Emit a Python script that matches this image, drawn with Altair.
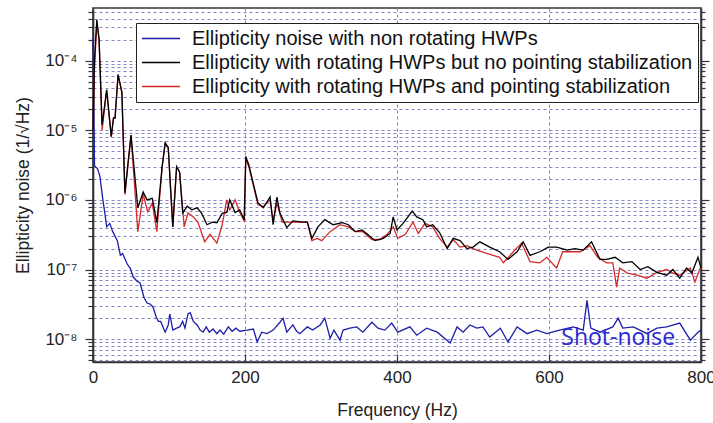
import altair as alt
import pandas as pd

# ---------------- data (frequency Hz, ellipticity 1/sqrt(Hz)) ----------------
blue = [(0, 2.1e-4), (2, 3.1e-6), (6, 2.8e-6), (9, 2.2e-6), (13, 1.0e-6), (16, 6.0e-7), (18, 4.1e-7),
        (22, 4.6e-7), (26, 3.5e-7), (32, 2.6e-7), (36, 1.6e-7), (39, 1.7e-7), (45, 1.2e-7), (49, 1.04e-7),
        (53, 7.8e-8), (58, 6.8e-8), (62, 6.4e-8), (67, 4.0e-8), (71, 3.3e-8), (75, 3.2e-8), (79, 2.9e-8),
        (83, 2.1e-8), (86, 1.8e-8), (89, 1.8e-8), (95, 1.26e-8), (99, 1.6e-8), (101, 2.3e-8), (105, 1.35e-8),
        (110, 1.44e-8), (114, 1.5e-8), (118, 1.8e-8), (121, 1.44e-8), (125, 2.3e-8), (128, 2.4e-8),
        (132, 1.8e-8), (137, 1.6e-8), (141, 1.35e-8), (145, 1.26e-8), (149, 1.5e-8), (153, 1.26e-8),
        (158, 1.4e-8), (163, 1.2e-8), (167, 1.35e-8), (172, 1.18e-8), (178, 1.5e-8), (183, 1.3e-8),
        (188, 1.44e-8), (193, 1.3e-8), (203, 1.35e-8), (211, 1.4e-8), (216, 9.1e-9), (222, 1.26e-8),
        (229, 1.2e-8), (237, 1.35e-8), (246, 1.75e-8), (250, 2.0e-8), (255, 1.26e-8), (263, 1.6e-8),
        (268, 1.3e-8), (272, 1.2e-8), (282, 1.5e-8), (289, 1.35e-8), (299, 1.6e-8), (305, 2.0e-8),
        (312, 1.03e-8), (317, 1.35e-8), (325, 9.7e-9), (329, 1.35e-8), (338, 1.44e-8), (347, 1.5e-8),
        (355, 1.26e-8), (367, 1.75e-8), (375, 1.44e-8), (384, 1.35e-8), (393, 1.7e-8), (401, 1.26e-8),
        (417, 1.5e-8), (426, 1.14e-8), (439, 1.44e-8), (453, 1.26e-8), (470, 8.8e-9), (479, 1.5e-8),
        (487, 1.26e-8), (496, 1.6e-8), (505, 1.44e-8), (513, 1.5e-8), (522, 1.07e-8), (536, 1.44e-8),
        (546, 9.1e-9), (558, 1.5e-8), (571, 1.2e-8), (584, 1.35e-8), (597, 1.2e-8), (614, 1.35e-8),
        (632, 1.5e-8), (645, 1.35e-8), (650, 3.6e-8), (655, 1.44e-8), (667, 1.26e-8), (684, 1.5e-8),
        (691, 2.0e-8), (697, 1.44e-8), (711, 1.5e-8), (729, 1.2e-8), (742, 1.44e-8), (755, 1.5e-8),
        (772, 1.7e-8), (786, 9.7e-9), (796, 1.26e-8), (800, 1.35e-8)]

black = [(0, 1.0e-5), (2, 1.0e-4), (5, 3.9e-4), (8, 2.0e-4), (12, 1.2e-5), (18, 3.8e-5), (24, 8.1e-6),
         (27, 1.5e-5), (29, 1.5e-5), (33, 6.3e-5), (38, 3.5e-5), (42, 1.26e-6), (50, 8.5e-6), (59, 7.7e-7),
         (66, 1.3e-6), (71, 1.0e-6), (78, 1.05e-6), (84, 4.7e-7), (91, 3.0e-6), (95, 6.6e-6), (99, 5.6e-6),
         (105, 4.1e-7), (110, 3.0e-6), (114, 2.5e-6), (118, 6.5e-7), (124, 8.1e-7), (130, 7.2e-7),
         (137, 7.7e-7), (143, 6.4e-7), (150, 4.4e-7), (157, 4.8e-7), (163, 4.7e-7), (170, 6.4e-7),
         (176, 6.6e-7), (180, 1.0e-6), (187, 6.6e-7), (193, 7.2e-7), (199, 5.2e-7), (201, 4.2e-6),
         (205, 3.2e-6), (211, 1.7e-6), (217, 9.1e-7), (224, 7.7e-7), (233, 1.1e-6), (237, 4.4e-7),
         (242, 1.1e-6), (246, 6.4e-7), (255, 4.0e-7), (263, 5.0e-7), (276, 4.8e-7), (282, 4.8e-7),
         (288, 2.8e-7), (296, 4.1e-7), (305, 5.2e-7), (316, 4.4e-7), (328, 4.7e-7), (336, 4.4e-7),
         (345, 3.5e-7), (354, 3.7e-7), (360, 3.3e-7), (371, 2.6e-7), (382, 2.8e-7), (391, 3.3e-7),
         (395, 5.7e-7), (400, 3.7e-7), (408, 4.6e-7), (420, 6.9e-7), (426, 5.7e-7), (434, 5.2e-7),
         (439, 4.1e-7), (447, 4.4e-7), (456, 3.4e-7), (466, 2.0e-7), (474, 2.8e-7), (483, 2.6e-7),
         (492, 2.0e-7), (500, 2.1e-7), (509, 2.5e-7), (522, 2.1e-7), (535, 1.8e-7), (546, 1.4e-7),
         (558, 1.8e-7), (566, 2.5e-7), (575, 1.6e-7), (588, 1.8e-7), (599, 2.1e-7), (610, 2.1e-7),
         (624, 1.9e-7), (634, 2.0e-7), (645, 1.9e-7), (656, 2.5e-7), (667, 1.4e-7), (676, 1.4e-7),
         (687, 1.5e-7), (697, 1.25e-7), (709, 1.3e-7), (720, 1.0e-7), (730, 1.1e-7), (742, 9.1e-8),
         (755, 8.3e-8), (763, 1.0e-7), (772, 7.5e-8), (781, 1.05e-7), (788, 8.9e-8), (796, 1.5e-7),
         (800, 1.05e-7)]

red = [(0, 1.0e-5), (2, 8.0e-5), (5, 3.5e-4), (8, 2.0e-4), (12, 1.0e-5), (18, 3.8e-5), (24, 8.1e-6),
       (27, 1.5e-5), (29, 1.5e-5), (33, 6.3e-5), (38, 3.5e-5), (42, 1.2e-6), (50, 8.5e-6), (59, 3.5e-7),
       (66, 1.2e-6), (72, 6.7e-7), (78, 9.0e-7), (84, 3.5e-7), (91, 3.0e-6), (95, 6.6e-6), (99, 5.6e-6),
       (105, 4.1e-7), (110, 3.0e-6), (114, 2.5e-6), (120, 4.1e-7), (125, 6.5e-7), (132, 5.7e-7),
       (138, 4.8e-7), (147, 2.5e-7), (154, 3.2e-7), (163, 2.4e-7), (170, 4.4e-7), (176, 1.0e-6),
       (180, 7.2e-7), (187, 1.0e-6), (193, 6.6e-7), (199, 5.0e-7), (201, 3.8e-6), (205, 3.0e-6),
       (211, 1.6e-6), (217, 8.5e-7), (224, 8.0e-7), (233, 1.0e-6), (237, 5.0e-7), (242, 9.0e-7),
       (249, 4.8e-7), (255, 4.8e-7), (263, 4.8e-7), (282, 4.8e-7), (288, 2.6e-7), (295, 2.8e-7),
       (301, 2.6e-7), (312, 3.5e-7), (325, 4.4e-7), (336, 4.1e-7), (345, 3.5e-7), (355, 3.5e-7),
       (367, 2.7e-7), (378, 2.7e-7), (387, 3.2e-7), (395, 4.1e-7), (401, 2.8e-7), (411, 3.2e-7),
       (421, 4.8e-7), (428, 3.3e-7), (437, 4.6e-7), (447, 4.1e-7), (456, 2.8e-7), (466, 2.1e-7),
       (474, 2.7e-7), (483, 2.1e-7), (492, 2.2e-7), (505, 1.9e-7), (518, 1.7e-7), (535, 1.5e-7),
       (540, 1.25e-7), (553, 1.8e-7), (564, 2.4e-7), (575, 1.3e-7), (588, 1.25e-7), (597, 1.5e-7),
       (610, 1.05e-7), (618, 1.8e-7), (630, 1.8e-7), (641, 1.8e-7), (654, 2.2e-7), (664, 1.5e-7),
       (676, 1.25e-7), (684, 1.25e-7), (689, 5.6e-8), (693, 1.05e-7), (703, 8.9e-8), (716, 8.3e-8),
       (729, 7.5e-8), (742, 9.1e-8), (755, 1.0e-7), (763, 8.9e-8), (772, 8.3e-8), (786, 1.05e-7),
       (792, 6.6e-8), (799, 1.05e-7)]

series_names = ["Ellipticity noise with non rotating HWPs",
                "Ellipticity with rotating HWPs but no pointing stabilization",
                "Ellipticity with rotating HWPs and pointing stabilization"]
series_colors = ["#1e1eaa", "#000000", "#d42a2a"]

x_ticks = [0, 200, 400, 600, 800]
y_domain = [4.7e-9, 5.7e-4]
y_grid = [k * 10.0 ** n for n in range(-9, -3) for k in range(1, 10)
          if y_domain[0] <= k * 10.0 ** n <= y_domain[1]]

annot_label = ["Shot-noise"]
annot_f = [691]
annot_v = [1.03e-8]

# ---------------- frames (drawing order: blue, red, black on top) ----------------
def frame(pairs, name):
    return pd.DataFrame({"f": [p[0] for p in pairs], "v": [p[1] for p in pairs], "series": name})

df_lines = pd.concat([frame(blue, series_names[0]), frame(red, series_names[2]),
                      frame(black, series_names[1])], ignore_index=True)
df_annot = pd.DataFrame({"f": annot_f, "v": annot_v, "label": annot_label})

# ---------------- axes ----------------
sup = {-4: "⁻⁴", -5: "⁻⁵", -6: "⁻⁶", -7: "⁻⁷", -8: "⁻⁸", -9: "⁻⁹"}
E = "round(log(datum.value)/LN10)"
nested = "''"
for e, s in sup.items():
    nested = f"({E} == {e} ? '{s}' : {nested})"
is_major = f"abs(log(datum.value)/LN10 - {E}) < 0.01"
label_expr = f"{is_major} ? ('10' + {nested}) : ''"

FONT = "Liberation Sans"
GRID = "#8484c8"
FRAME = "#333333"

x_scale = alt.Scale(domain=[0, 800], nice=False, zero=False)
y_scale = alt.Scale(type="log", domain=y_domain, nice=False)

x_enc = alt.X("f:Q", scale=x_scale, axis=alt.Axis(
    values=x_ticks, title="Frequency (Hz)", grid=True, gridDash=[3, 3], gridColor=GRID,
    gridWidth=1, ticks=False, domain=True, domainColor=FRAME, domainWidth=1.6,
    labelFontSize=17, labelFont=FONT, labelColor="#222222", labelPadding=7,
    titleFont=FONT, titleFontSize=17.5, titleFontWeight="normal", titleColor="#222222",
    titleY=48, titleBaseline="middle", labelFlush=False))

y_enc = alt.Y("v:Q", scale=y_scale, axis=alt.Axis(
    values=y_grid, labelExpr=label_expr, title="Ellipticity noise (1/√Hz)", grid=True,
    gridDash=[3, 3], gridColor=GRID, gridWidth=1, domain=True, domainColor=FRAME,
    domainWidth=1.6,
    tickSize={"condition": {"test": is_major, "value": 8}, "value": 5},
    tickColor=FRAME, tickWidth=1.2, labelFontSize=17, labelFont=FONT,
    labelColor="#222222", labelPadding=8, titleFont=FONT, titleFontSize=17.5,
    titleFontWeight="normal", titleColor="#222222", titleX=-70, titleY=177,
    titleBaseline="middle", labelFlush=False))

color = alt.Color("series:N", scale=alt.Scale(domain=series_names, range=series_colors),
                  legend=alt.Legend(title=None, orient="none", legendX=43, legendY=15,
                                    labelFontSize=20, labelFont=FONT, labelColor="#111111",
                                    labelLimit=700, symbolType="M-1,0H3", symbolSize=361,
                                    symbolStrokeWidth=1.5, strokeColor="#222222",
                                    fillColor="white", padding=5, rowPadding=3,
                                    labelOffset=30))

lines = alt.Chart(df_lines).mark_line(strokeWidth=1.3, interpolate="linear").encode(
    x=x_enc, y=y_enc, color=color, detail="series:N")

# second layer: carries the mirrored right axis and the inward ticks along the bottom
annot = alt.Chart(df_annot).mark_text(
    font="Open Sans", fontSize=23, color="#2a2ad2", align="center", baseline="middle"
).encode(
    x=alt.X("f:Q", scale=x_scale, axis=alt.Axis(
        orient="top", offset=-354, values=x_ticks, labels=False, ticks=True, tickSize=8,
        tickColor=FRAME, tickWidth=1.2, grid=False, domain=False, title="")),
    y=alt.Y("v:Q", scale=y_scale, axis=alt.Axis(
        orient="right", values=y_grid, labels=False, grid=False, domain=True,
        domainColor=FRAME, domainWidth=1.6, title="",
        tickSize={"condition": {"test": is_major, "value": 8}, "value": 4},
        tickColor=FRAME, tickWidth=1.2)),
    text="label:N")

chart = alt.layer(lines, annot).resolve_axis(x="independent", y="independent").properties(
    width=608, height=354,
    autosize=alt.AutoSizeParams(type="none"),
    padding={"left": 93, "top": 8, "right": 12, "bottom": 61},
    background="white",
).configure_view(stroke=FRAME, strokeWidth=1.6)

chart.save("out.html", embed_options={"renderer": "svg", "actions": False})
